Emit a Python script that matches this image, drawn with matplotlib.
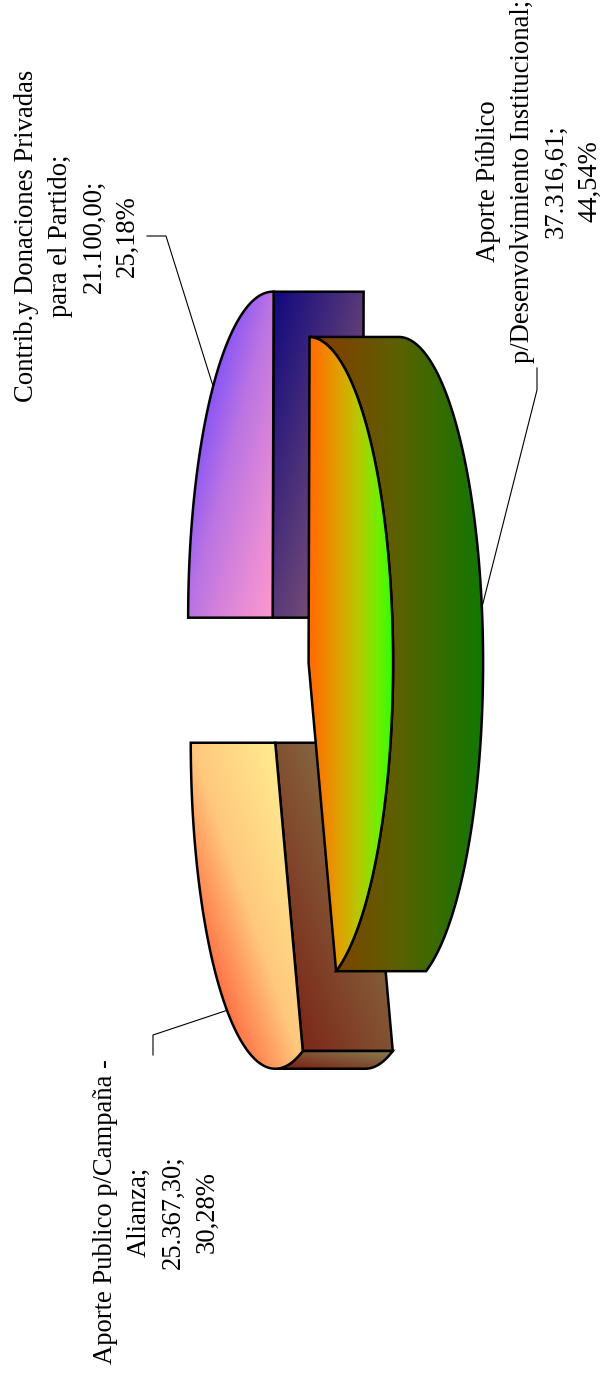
import numpy as np
import matplotlib
matplotlib.use('Agg')
import matplotlib.pyplot as plt
from matplotlib.patches import Polygon
from matplotlib.colors import to_rgb

# datos
categories = ['Contrib.y Donaciones Privadas\npara el Partido;',
              'Aporte Público\np/Desenvolvimiento Institucional;',
              'Aporte Publico p/Campaña -\nAlianza;']
values = [21100.00, 37316.61, 25367.30]
value_labels = ['21.100,00;', '37.316,61;', '25.367,30;']
pct_labels = ['25,18%', '44,54%', '30,28%']

# geometria del pie 3D (pixeles de la imagen, ya rotada)
CX, CY = 287.6, 676.0
RX, RY = 84.5, 326.0
DEPTH = 90.0
EXPLODE = 82.0

# (dir, [(pos, color), ...]): dir 'h' izq->der, 'tl' arriba-izq->abajo-der, 'tr' arriba-der->abajo-izq
top_style = [('tl', [(0, '#7040ff'), (.25, '#8050f8'), (.5, '#bb74e2'), (.75, '#e088d8'), (1, '#ff99cc')]),
             ('h', [(0, '#ff7000'), (.06, '#ff7000'), (.35, '#e0a000'), (.58, '#b8c800'),
                    (.82, '#70f000'), (1, '#28ff00')]),
             ('tr', [(0, '#fff896'), (.5, '#ffc87d'), (.75, '#ff7346'), (1, '#ff4628')])]
wall_style = [('tl', [(0, '#100880'), (1, '#a06a70')]),
              ('h', [(0, '#8a3800'), (.5, '#5c6000'), (1, '#107800')]),
              ('tr', [(0, '#8a8a55'), (1, '#7a1a10')])]
outer_style = [('h', [(0, '#8a3800'), (.5, '#5c6000'), (1, '#107800')]),
               ('h', [(0, '#8a3800'), (.5, '#5c6000'), (1, '#107800')]),
               ('tr', [(0, '#858050'), (1, '#7a1a10')])]

label_pos = [(77, 236), (539, 181), (156, 1212)]
leaders = [[(147, 236), (166, 236), (213, 386)],
           [(537, 368), (537, 390), (482, 607)],
           [(153, 1055), (153, 1035), (228, 1010)]]


def arc(cx, cy, a0, a1, n=200):
    t = np.radians(np.linspace(a0, a1, n))
    return np.column_stack([cx - RX * np.cos(t), cy - RY * np.sin(t)])


def grad_fill(ax, pts, style, z):
    """relleno con gradiente lineal sobre el bbox del poligono"""
    kind, stops = style
    x0, y0 = pts.min(axis=0)
    x1, y1 = pts.max(axis=0)
    u, v = np.meshgrid(np.linspace(0, 1, 200), np.linspace(0, 1, 300))
    if kind == 'h':
        s = u
    elif kind == 'tl':
        s = (u + v) / 2
    else:
        s = (1 - u + v) / 2
    pos = [p for p, _ in stops]
    cols = np.array([to_rgb(c) for _, c in stops])
    img = np.dstack([np.interp(s, pos, cols[:, k]) for k in range(3)])
    im = ax.imshow(img, extent=(x0, x1, y1, y0), origin='upper', aspect='auto',
                   interpolation='bilinear', zorder=z)
    outline = Polygon(pts, closed=True, fill=False, ec='black', lw=1.8,
                      joinstyle='miter', zorder=z + 0.5)
    ax.add_patch(outline)
    im.set_clip_path(outline)


fig = plt.figure(figsize=(6.04, 13.81), dpi=100)
ax = fig.add_axes([0, 0, 1, 1])

share = np.array(values) / sum(values) * 360
ends = np.cumsum(share)
starts = ends - share

# atras primero: morado, amarillo, verde encima
z = 2
for i in [0, 2, 1]:
    a0, a1 = starts[i], ends[i]
    mid = np.radians((a0 + a1) / 2)
    sx = CX - EXPLODE * RX / RY * np.cos(mid)
    sy = CY - EXPLODE * np.sin(mid)
    center = np.array([[sx, sy]])
    shift = np.array([DEPTH, 0])

    # paredes de los cortes que miran hacia la derecha
    for ang, visible in [(a1, np.sin(np.radians(a1)) > 1e-6),
                         (a0, -np.sin(np.radians(a0)) > 1e-6)]:
        if visible:
            edge = arc(sx, sy, ang, ang, 1)
            wall = np.vstack([center, edge, edge + shift, center + shift])
            grad_fill(ax, wall, wall_style[i], z)
            z += 1

    # pared exterior
    b0, b1 = max(a0, 90), min(a1, 270)
    if b1 - b0 > 1:
        rim = arc(sx, sy, b0, b1)
        grad_fill(ax, np.vstack([rim, (rim + shift)[::-1]]), outer_style[i], z)
        z += 1

    # tapa
    top = np.vstack([center, arc(sx, sy, a0, a1)])
    grad_fill(ax, top, top_style[i], z)
    z += 1

for pts in leaders:
    p = np.array(pts)
    ax.plot(p[:, 0], p[:, 1], color='black', lw=0.8, zorder=1)

for i, (x, y) in enumerate(label_pos):
    txt = categories[i] + '\n' + value_labels[i] + '\n' + pct_labels[i]
    ax.text(x, y, txt, rotation=90, ha='center', va='center', multialignment='center',
            family=['Liberation Serif'], fontsize=19.2, linespacing=1.46, color='black')

ax.set_xlim(0, 604)
ax.set_ylim(1381, 0)
ax.axis('off')
fig.savefig('out.png', dpi=100, facecolor='white')
